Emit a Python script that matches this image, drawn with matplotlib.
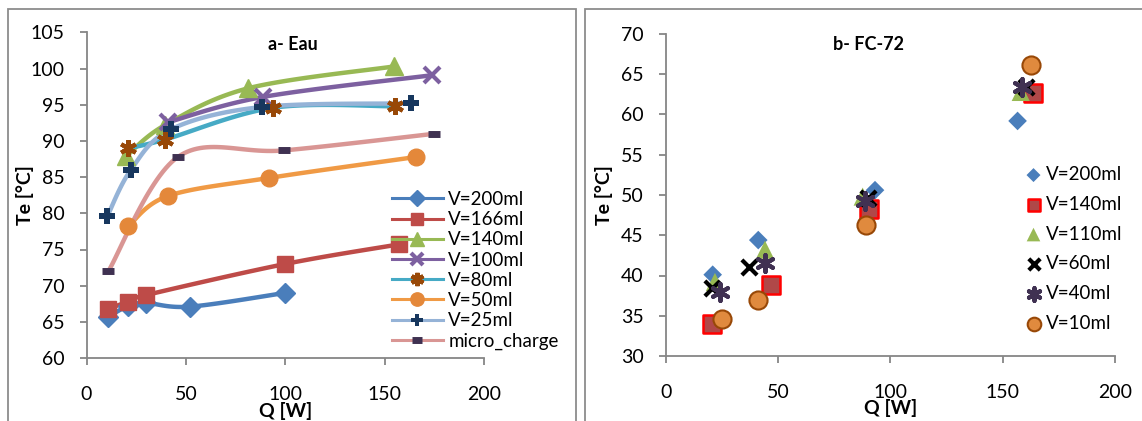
import numpy as np
import matplotlib
matplotlib.use('Agg')
import matplotlib.pyplot as plt
from matplotlib.patches import Rectangle
from matplotlib.lines import Line2D

plt.rcParams['font.family'] = ['Lato', 'DejaVu Sans']

# ---- a- Eau : Te vs Q, smoothed lines ----
q_200 = [11, 21, 30, 52, 100]
te_200 = [65.7, 67.2, 67.6, 67.1, 69.0]
q_166 = [11, 21, 30, 100, 157]
te_166 = [66.8, 67.8, 68.7, 73.0, 75.7]
q_140 = [20, 39.5, 81.5, 154.5]
te_140 = [87.9, 92.2, 97.3, 100.3]
q_100 = [41, 89, 174]
te_100 = [92.6, 96.1, 99.1]
q_80 = [21, 39.5, 94, 155]
te_80 = [89.0, 90.2, 94.6, 94.8]
q_50 = [21, 41, 92, 166]
te_50 = [78.2, 82.4, 84.9, 87.8]
q_25 = [10.5, 22.3, 42.4, 88.2, 163.4]
te_25 = [79.6, 86.0, 91.6, 94.7, 95.2]
q_micro = [11, 46, 99.4, 175]
te_micro = [72.0, 87.8, 88.7, 91.0]

# ---- b- FC-72 : scatter ----
fq_200 = [20.8, 41.1, 93.1, 156.6]
fte_200 = [40.1, 44.4, 50.6, 59.2]
fq_140 = [20.6, 46.6, 90.4, 163.6]
fte_140 = [34.0, 38.8, 48.2, 62.7]
fq_110 = [21.8, 44.1, 87.6, 158.0]
fte_110 = [39.2, 43.2, 49.8, 62.8]
fq_60 = [20.4, 37.1, 90.1, 160.4]
fte_60 = [38.4, 41.1, 49.6, 63.4]
fq_40 = [24.0, 44.1, 88.6, 158.4]
fte_40 = [37.9, 41.6, 49.3, 63.4]
fq_10 = [24.8, 41.1, 88.9, 162.6]
fte_10 = [34.6, 36.9, 46.3, 66.1]


def smooth(x, y, n=30):
    # cubic bezier through the points, Catmull-Rom style control points
    p = np.column_stack([x, y]).astype(float)
    if len(p) < 3:
        return p[:, 0], p[:, 1]
    ext = np.vstack([p[0], p, p[-1]])
    t = np.linspace(0, 1, n)[:, None]
    out = []
    for i in range(len(p) - 1):
        p0, p1, p2, p3 = ext[i], ext[i + 1], ext[i + 2], ext[i + 3]
        c1 = p1 + (p2 - p0) / 6
        c2 = p2 - (p3 - p1) / 6
        seg = ((1 - t) ** 3) * p1 + 3 * ((1 - t) ** 2) * t * c1 + 3 * (1 - t) * t ** 2 * c2 + t ** 3 * p2
        out.append(seg if i == 0 else seg[1:])
    out = np.vstack(out)
    return out[:, 0], out[:, 1]


fig = plt.figure(figsize=(11.42, 4.21), dpi=100)
W, H = 1142, 421

grey = '#868686'

# chart frames
fig.patches.append(Rectangle((8 / W, -0.1), 568 / W, (421 - 9) / H + 0.1,
                             transform=fig.transFigure, fill=False, ec='#8c8c8c', lw=1.3))
fig.patches.append(Rectangle((585 / W, -0.1), 0.6, (421 - 9) / H + 0.1,
                             transform=fig.transFigure, fill=False, ec='#8c8c8c', lw=1.3))

ax1 = fig.add_axes([86.5 / W, (421 - 358) / H, 397.5 / W, 325.5 / H])
ax2 = fig.add_axes([666 / W, (421 - 356) / H, 449 / W, 322 / H])

series = [
    ('V=200ml', q_200, te_200, '#4A7EBB', dict(marker='D', ms=10, mfc='#4A7EBB', mec='#4A7EBB')),
    ('V=166ml', q_166, te_166, '#BE4B48', dict(marker='s', ms=11, mfc='#BE4B48', mec='#BE4B48')),
    ('V=140ml', q_140, te_140, '#98B954', dict(marker='^', ms=13, mfc='#98B954', mec='#98B954')),
    ('V=100ml', q_100, te_100, '#7D60A0', dict(marker='x', ms=11, mew=3, mec='#7D60A0')),
    ('V=80ml', q_80, te_80, '#46AAC5', dict(marker=(6, 2, 0), ms=12, mew=3, mec='#984807')),
    ('V=50ml', q_50, te_50, '#F09A45', dict(marker='o', ms=12, mfc='#E4883A', mec='#E4883A')),
    ('V=25ml', q_25, te_25, '#95B3D7', dict(marker='P', ms=11, mfc='#17375E', mec='#17375E', mew=0)),
    ('micro_charge', q_micro, te_micro, '#D99694', dict(marker='_', ms=9, mew=5, mec='#3F3151')),
]

handles = []
for name, x, y, col, mk in series:
    sx, sy = smooth(x, y)
    ax1.plot(sx, sy, color=col, lw=3.2, solid_capstyle='round', zorder=2)
    ax1.plot(x, y, ls='none', zorder=3, **mk)
    leg_mk = dict(mk)
    leg_mk['ms'] = mk['ms'] * 0.8
    handles.append(Line2D([], [], color=col, lw=2.2, label=name, **leg_mk))

ax1.set_xlim(0, 200)
ax1.set_ylim(60, 105)
ax1.set_xticks(np.arange(0, 201, 50))
ax1.set_yticks(np.arange(60, 106, 5))

ax1.legend(handles=handles, loc='upper left', bbox_to_anchor=(392 / W, 1 - 191 / H),
           bbox_transform=fig.transFigure, frameon=False, fontsize=13.5,
           handlelength=2.7, handletextpad=0.3, labelspacing=0.17,
           borderpad=0, borderaxespad=0)

ax1.text(0.518, 0.962, 'a- Eau', transform=ax1.transAxes, ha='center', va='center',
         fontsize=13, fontweight='bold')

# FC-72 points
pts = [
    ('V=200ml', fq_200, fte_200, dict(marker='D', s=90, c='#4A7EBB', edgecolors='none')),
    ('V=140ml', fq_140, fte_140, dict(marker='s', s=150, c='#B04848', edgecolors='#FF0000', linewidths=1.8)),
    ('V=110ml', fq_110, fte_110, dict(marker='^', s=170, c='#98B954', edgecolors='none')),
    ('V=60ml', fq_60, fte_60, dict(marker='x', s=120, c='black', linewidths=3)),
    ('V=40ml', fq_40, fte_40, dict(marker=(6, 2, 0), s=150, c='#403152', linewidths=3)),
    ('V=10ml', fq_10, fte_10, dict(marker='o', s=170, c='#E08A3E', edgecolors='#984807', linewidths=1.5)),
]
for name, x, y, kw in pts:
    ax2.scatter(x, y, label=name, zorder=3, **kw)

ax2.set_xlim(0, 200)
ax2.set_ylim(30, 70)
ax2.set_xticks(np.arange(0, 201, 50))
ax2.set_yticks(np.arange(30, 71, 5))

ax2.legend(loc='upper left', bbox_to_anchor=(1026 / W, 1 - 166 / H),
           bbox_transform=fig.transFigure, frameon=False, fontsize=13.5,
           handlelength=0.8, handletextpad=0.25, labelspacing=0.68,
           borderpad=0, borderaxespad=0, markerscale=0.75, scatterpoints=1)

ax2.text(0.451, 0.966, 'b- FC-72', transform=ax2.transAxes, ha='center', va='center',
         fontsize=13, fontweight='bold')

for ax, ylx in ((ax1, -0.132), (ax2, -0.118)):
    for s in ('top', 'right'):
        ax.spines[s].set_visible(False)
    for s in ('left', 'bottom'):
        ax.spines[s].set_color(grey)
        ax.spines[s].set_linewidth(1.3)
    ax.tick_params(axis='both', direction='out', length=5, width=1.3, color=grey,
                   labelsize=14, labelcolor='black')
    ax.tick_params(axis='y', pad=11)
    ax.tick_params(axis='x', pad=15)
    ax.set_ylabel('Te [°C]', fontsize=14, fontweight='bold')
    ax.yaxis.set_label_coords(ylx, 0.5)
    ax.set_xlabel('Q [W]', fontsize=14, fontweight='bold')
    ax.xaxis.set_label_coords(0.5, -0.135)
    for sp in ax.spines.values():
        sp.set_zorder(1)

fig.savefig('out.png', dpi=100)
